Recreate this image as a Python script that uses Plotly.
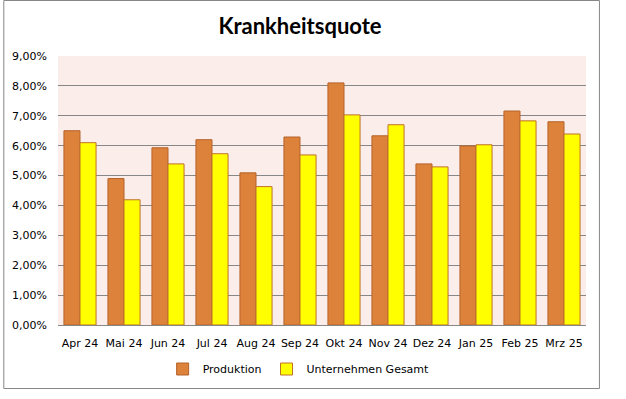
import plotly.graph_objects as go

months = ["Apr 24", "Mai 24", "Jun 24", "Jul 24", "Aug 24", "Sep 24",
          "Okt 24", "Nov 24", "Dez 24", "Jan 25", "Feb 25", "Mrz 25"]
produktion = [0.0650, 0.0490, 0.0593, 0.0620, 0.0509, 0.0629,
              0.0810, 0.0633, 0.0539, 0.0599, 0.0716, 0.0680]
gesamt = [0.0610, 0.0419, 0.0539, 0.0573, 0.0463, 0.0569,
          0.0703, 0.0670, 0.0529, 0.0603, 0.0683, 0.0639]

W, H = 626, 399
L, R, T, B = 55, 40, 56, 74
pw = W - L - R
ph = H - T - B

fig = go.Figure()
fig.add_trace(go.Bar(x=months, y=produktion, name="Produktion",
                     marker=dict(color="#DD823B", line=dict(color="#B5622A", width=1))))
fig.add_trace(go.Bar(x=months, y=gesamt, name="Unternehmen Gesamt",
                     marker=dict(color="#FFFF00", line=dict(color="#C0702A", width=1))))

fig.update_layout(
    width=W, height=H,
    margin=dict(l=L, r=R, t=T, b=B),
    paper_bgcolor="white",
    plot_bgcolor="#FBEEEA",
    separators=",.",
    barmode="group", bargap=0.27, bargroupgap=0,
    title=dict(text="<b>Krankheitsquote</b>", x=300 / W, xanchor="center",
               y=1 - 26 / H, yanchor="middle",
               font=dict(family="Lato, Open Sans, sans-serif", size=22, color="black")),
    font=dict(family="DejaVu Sans, Verdana, sans-serif", size=11, color="black"),
    legend=dict(orientation="h", x=(297 - L) / pw, xanchor="center",
                y=-(369 - (T + ph)) / ph, yanchor="middle",
                font=dict(size=11), itemwidth=30, traceorder="normal",
                bgcolor="rgba(0,0,0,0)"),
    showlegend=True,
    hovermode=False,
)
fig.update_yaxes(range=[0, 0.09], dtick=0.01, tickformat=".2%",
                 showgrid=True, gridcolor="#878787", gridwidth=1,
                 zeroline=False, showline=False, ticks="", ticklabelstandoff=10,
                 fixedrange=True)
fig.update_xaxes(showline=True, linecolor="#878787", linewidth=1,
                 ticks="", showgrid=False, ticklabelstandoff=8, fixedrange=True)

# outer chart frame
fig.add_shape(type="rect", xref="paper", yref="paper",
              x0=(0.5 - L) / pw, x1=(599.5 - L) / pw,
              y0=(T + ph - 388.5) / ph, y1=(T + ph - 0.5) / ph,
              line=dict(color="#878787", width=1), fillcolor="rgba(0,0,0,0)",
              layer="below")

fig.write_html("out.html", config={"displayModeBar": False},
               post_script="document.body.style.margin='0';document.body.style.padding='0';")
